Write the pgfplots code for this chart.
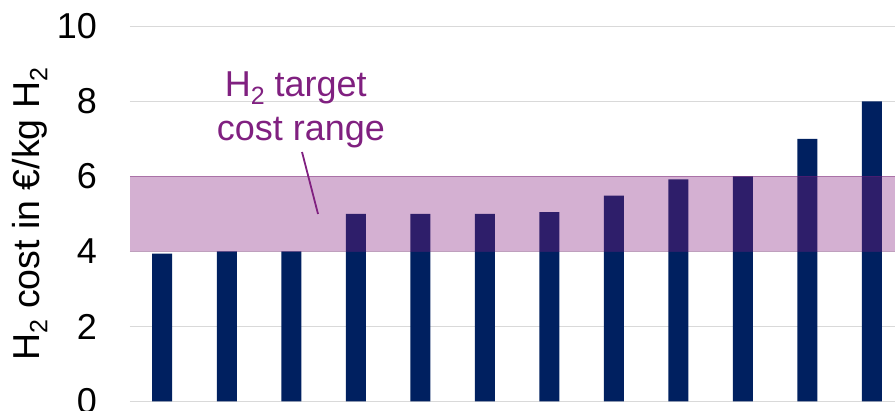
\documentclass[border=0pt]{standalone}
\usepackage{fontspec}
\setmainfont{Liberation Sans}
\usepackage{pgfplots}
\pgfplotsset{compat=1.18}
\definecolor{navy}{RGB}{0,32,96}
\definecolor{bandpurple}{RGB}{132,29,126}
\definecolor{txtpurple}{RGB}{128,32,128}
\definecolor{gridgray}{RGB}{217,217,217}
\newcommand{\sub}[1]{\raisebox{-8pt}{\fontsize{25}{25}\selectfont #1}}
\newcommand{\bigfont}{\fontsize{36}{43}\selectfont}
\newcommand{\labfont}{\fontsize{37.5}{45}\selectfont}
\begin{document}
\begin{tikzpicture}
\useasboundingbox (-130pt,-9.5pt) rectangle (765pt,401.5pt);
\clip (-130pt,-9.5pt) rectangle (765pt,401.5pt);
\begin{axis}[
  at={(0,0)}, anchor=south west,
  scale only axis, width=765pt, height=375pt,
  xmin=-0.5, xmax=11.36, ymin=0, ymax=10,
  ytick={0,2,4,6,8,10}, xtick=\empty,
  axis line style={draw=none},
  major tick length=0pt,
  ymajorgrids, grid style={gridgray, line width=1pt},
  /pgf/number format/assume math mode=true,
  yticklabel style={anchor=east, inner sep=0pt, xshift=-33pt, font=\bigfont},
  ylabel={H\sub{2} cost in €/kg H\sub{2}},
  ylabel style={at={([xshift=-90.5pt]axis description cs:0,0.5)}, anchor=base, font=\labfont},
]
\addplot[ybar, bar width=20pt, fill=navy, draw=none] coordinates {
 (0,3.94) (1,4.0) (2,4.0) (3,5.0) (4,5.0) (5,5.0) (6,5.05) (7,5.49) (8,5.92) (9,6.0) (10,7.0) (11,8.0)};
\fill[bandpurple, fill opacity=0.35] (axis cs:-0.5,4) rectangle (axis cs:11.36,6);
\draw[bandpurple, opacity=0.3, line width=1pt] (axis cs:-0.5,4) -- (axis cs:11.36,4);
\draw[bandpurple, opacity=0.3, line width=1pt] (axis cs:-0.5,6) -- (axis cs:11.36,6);
\node[txtpurple, anchor=base, font=\bigfont, inner sep=0pt] at (axis cs:2.07,8.12) {H\sub{2} target};
\node[txtpurple, anchor=base, font=\bigfont, inner sep=0pt] at (axis cs:2.15,6.97) {cost range};
\draw[txtpurple, line width=1.8pt] (axis cs:2.167,6.653) -- (axis cs:2.415,5.0);
\end{axis}
\end{tikzpicture}
\end{document}
